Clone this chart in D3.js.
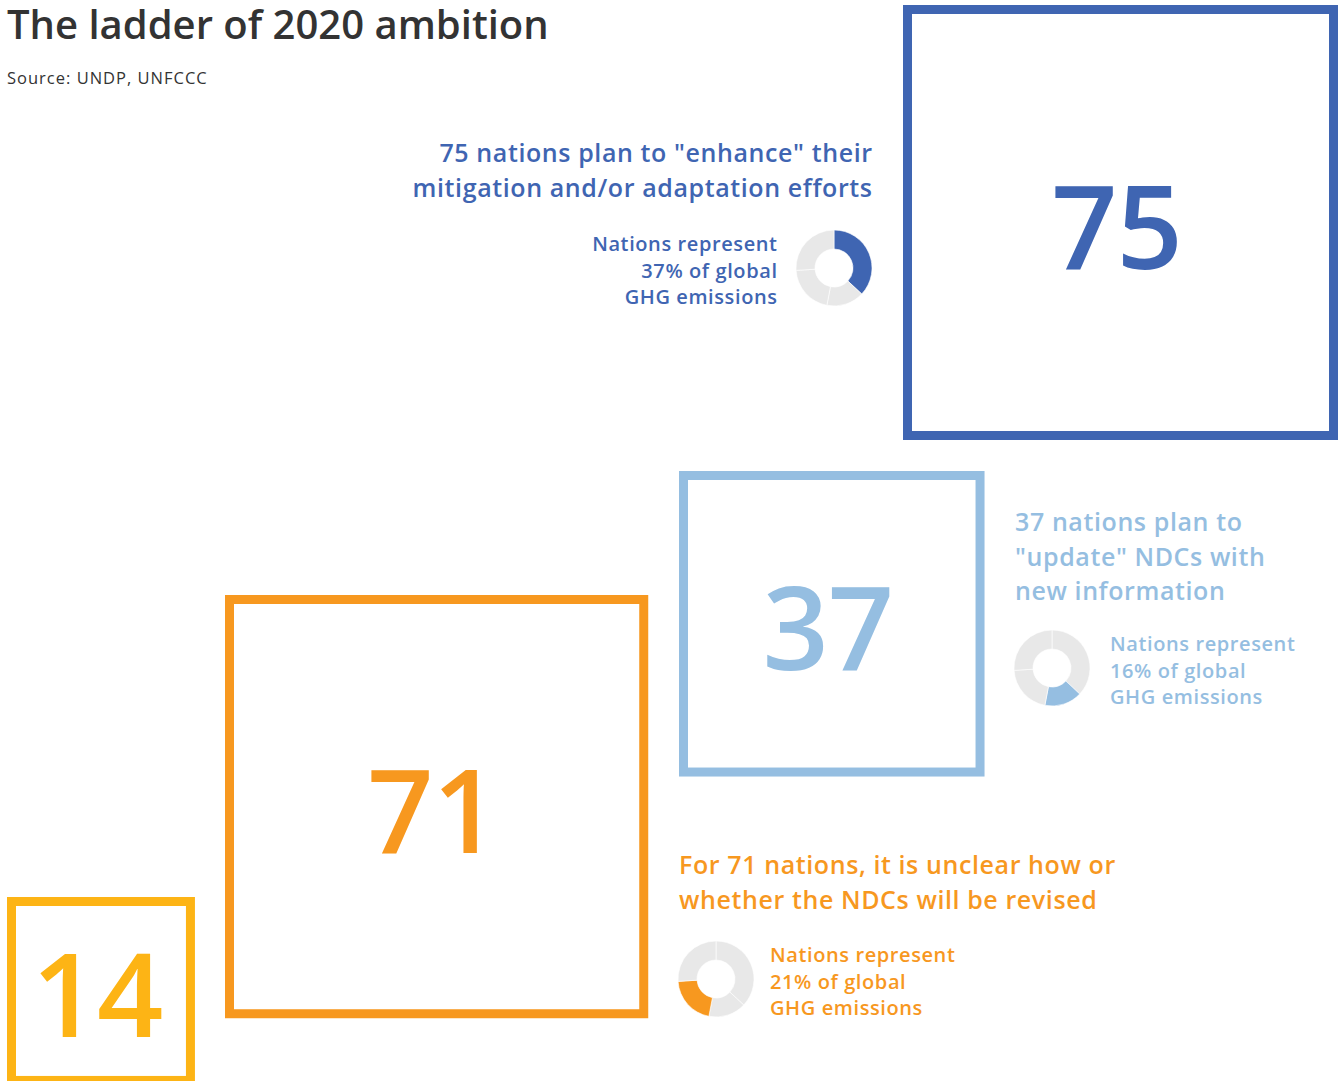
<!DOCTYPE html>
<html>
<head>
<meta charset="utf-8">
<script src="https://cdn.jsdelivr.net/npm/d3@7"></script>
<style>
  body { margin: 0; background: #fff; }
  svg text { font-family: "Open Sans", "Noto Sans", sans-serif; }
</style>
</head>
<body>
<svg id="chart" width="1343" height="1081"></svg>
<script>
// data
var nationCounts = [75, 37, 71, 14];
var emissionShares = [37, 16, 21];           // % of global GHG emissions
var colors = ["#3f65b2", "#95bee1", "#f7981f", "#fdb415"];
var headlines = [
  ['75 nations plan to "enhance" their', 'mitigation and/or adaptation efforts'],
  ['37 nations plan to', '"update" NDCs with', 'new information'],
  ['For 71 nations, it is unclear how or', 'whether the NDCs will be revised']
];
var subLines = function(p) { return ['Nations represent', p + '% of global', 'GHG emissions']; };

var svg = d3.select("#chart");
var W = 1343;

// square side (outer) from count
var side = d3.scaleSqrt().domain([0, 75]).range([0, 435]);
var sw = 9;

// outer top-left of each square
var pos = [
  {x: W - 5 - side(75), y: 5},
  {x: 679, y: 471},
  {x: 225, y: 595},
  {x: 7, y: 897}
];

var squares = svg.selectAll(".sq")
    .data(nationCounts)
  .enter().append("g")
    .attr("class", "sq")
    .attr("transform", function(d, i) { return "translate(" + pos[i].x + "," + pos[i].y + ")"; });

squares.append("rect")
  .attr("x", sw / 2)
  .attr("y", sw / 2)
  .attr("width", function(d) { return side(d) - sw; })
  .attr("height", function(d) { return side(d) - sw; })
  .attr("fill", "none")
  .attr("stroke", function(d, i) { return colors[i]; })
  .attr("stroke-width", sw);

squares.append("text")
  .attr("x", function(d) { return side(d) / 2 - 4; })
  .attr("y", function(d) { return side(d) / 2 + 46; })
  .attr("text-anchor", "middle")
  .style("font-size", "116px")
  .style("font-weight", 600)
  .style("letter-spacing", "-1px")
  .attr("fill", function(d, i) { return colors[i]; })
  .text(function(d) { return d; });

// title
svg.append("text")
  .attr("x", 7).attr("y", 39)
  .style("font-size", "40px").style("font-weight", 600)
  .attr("fill", "#333")
  .text("The ladder of 2020 ambition");

svg.append("text")
  .attr("x", 7).attr("y", 84)
  .style("font-size", "16.5px")
  .style("letter-spacing", "1px")
  .attr("fill", "#333")
  .text("Source: UNDP, UNFCCC");

// annotations
var notes = [
  {hx: 872, hy: 162, anchor: "end", sx: 777, sy: 251, cx: 834, cy: 268},
  {hx: 1015, hy: 531, anchor: "start", sx: 1110, sy: 651, cx: 1052, cy: 668},
  {hx: 679, hy: 874, anchor: "start", sx: 770, sy: 962, cx: 716, cy: 979}
];

var rest = 100 - d3.sum(emissionShares);
var pie = d3.pie().sort(null).value(function(d) { return d; });
var arcs = pie(emissionShares.concat([rest]));
var arc = d3.arc().innerRadius(19).outerRadius(38);

notes.forEach(function(n, i) {
  var g = svg.append("g").attr("fill", colors[i]);
  // end-anchored text carries trailing letter-spacing, nudge it back
  var lsH = 0.6, lsS = 0.6;
  var shH = n.anchor === "end" ? lsH : 0, shS = n.anchor === "end" ? lsS : 0;

  g.append("text")
    .attr("text-anchor", n.anchor)
    .style("font-size", "25px").style("font-weight", 600)
    .style("letter-spacing", lsH + "px")
    .selectAll("tspan")
      .data(headlines[i])
    .enter().append("tspan")
      .attr("x", n.hx + shH)
      .attr("y", function(d, j) { return n.hy + j * 34.5; })
      .text(function(d) { return d; });

  g.append("text")
    .attr("text-anchor", n.anchor)
    .style("font-size", "20px").style("font-weight", 600)
    .style("letter-spacing", lsS + "px")
    .selectAll("tspan")
      .data(subLines(emissionShares[i]))
    .enter().append("tspan")
      .attr("x", n.sx + shS)
      .attr("y", function(d, j) { return n.sy + j * 26.5; })
      .text(function(d) { return d; });

  g.append("g")
    .attr("transform", "translate(" + n.cx + "," + n.cy + ")")
    .selectAll("path")
      .data(arcs)
    .enter().append("path")
      .attr("d", arc)
      .attr("fill", function(d, j) { return j === i ? colors[i] : "#e8e8e8"; })
      .attr("stroke", "#fff")
      .attr("stroke-width", 0.6);
});
</script>
</body>
</html>
